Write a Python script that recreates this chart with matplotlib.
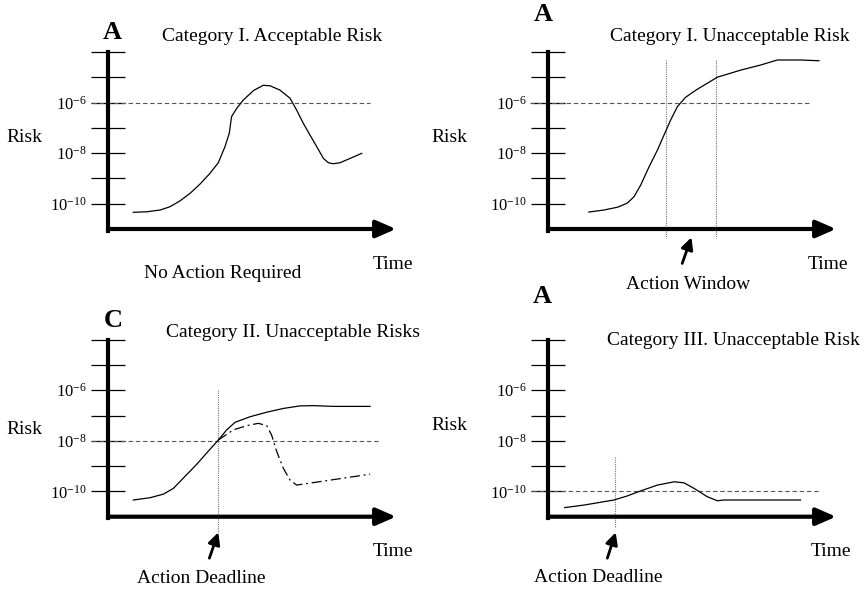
import matplotlib.pyplot as plt

plt.rcParams['font.family'] = 'Liberation Serif'
plt.rcParams['mathtext.default'] = 'regular'

# risk axis, in log10(risk)
risk_ticks = [-10, -9, -8, -7, -6, -5, -4]
risk_labels = ['$10^{-10}$', '', '$10^{-8}$', '', '$10^{-6}$', '', '']

# Category I, acceptable risk
acc_time = [0.88, 1.34, 1.81, 2.15, 2.50, 2.85, 3.19, 3.54, 3.83, 4.06, 4.21, 4.29, 4.47,
            4.70, 5.05, 5.39, 5.63, 5.97, 6.32, 6.55, 6.78, 7.01, 7.25, 7.48, 7.65, 7.82,
            8.06, 8.81]
acc_risk = [-10.34, -10.32, -10.25, -10.12, -9.89, -9.59, -9.23, -8.80, -8.38, -7.75, -7.22,
            -6.56, -6.23, -5.90, -5.53, -5.32, -5.34, -5.51, -5.83, -6.30, -6.82, -7.28,
            -7.75, -8.21, -8.38, -8.42, -8.38, -8.01]

# Category I, unacceptable risk
unacc_time = [1.42, 1.94, 2.41, 2.75, 2.99, 3.22, 3.51, 3.80, 4.03, 4.26, 4.49, 4.78, 5.18,
              5.88, 6.69, 7.38, 7.96, 8.77, 9.41]
unacc_risk = [-10.33, -10.25, -10.14, -9.98, -9.72, -9.26, -8.54, -7.88, -7.28, -6.69, -6.17,
              -5.79, -5.48, -5.00, -4.72, -4.52, -4.32, -4.32, -4.35]
window = [4.08, 5.85]

# Category II
cat2_time = [0.88, 1.46, 1.92, 2.27, 2.61, 3.08, 3.42, 3.83, 4.12, 4.41, 4.93, 5.51, 6.09,
             6.67, 7.13, 7.82, 9.10]
cat2_risk = [-10.34, -10.25, -10.11, -9.88, -9.48, -8.93, -8.49, -7.97, -7.57, -7.27, -7.05,
             -6.87, -6.72, -6.62, -6.61, -6.64, -6.64]
cat2_act_time = [3.83, 4.35, 4.82, 5.22, 5.51, 5.68, 5.86, 6.09, 6.32, 6.55, 9.10]
cat2_act_risk = [-7.97, -7.57, -7.40, -7.31, -7.40, -7.77, -8.43, -9.09, -9.55, -9.75, -9.32]
cat2_deadline = 3.83

# Category III
cat3_time = [0.58, 1.25, 2.29, 2.75, 3.22, 3.80, 4.38, 4.72, 5.07, 5.53, 5.88, 6.11, 8.77]
cat3_risk = [-10.64, -10.54, -10.34, -10.18, -9.98, -9.75, -9.62, -9.66, -9.88, -10.21,
             -10.37, -10.34, -10.34]
cat3_deadline = 2.31

# pointer arrows: (tail, head)
window_arrow = [(4.66, -12.36), (4.98, -11.33)]
cat2_arrow = [(3.52, -12.64), (3.83, -11.62)]
cat3_arrow = [(2.06, -12.64), (2.35, -11.62)]

W, H = 868, 590
PW, PH = 434, 295
XS, YS = 28.8, 25.3  # px per time unit, px per decade

fig = plt.figure(figsize=(W / 100, H / 100), dpi=100)


def make_panel(left, top, x0, y0):
    ax = fig.add_axes([left / W, 1 - (top + PH) / H, PW / W, PH / H])
    ax.set_xlim((left - x0) / XS, (left + PW - x0) / XS)
    ax.set_ylim(-11 - (top + PH - y0) / YS, -11 + (y0 - top) / YS)
    ax.patch.set_visible(False)
    for s in ['top', 'right', 'bottom']:
        ax.spines[s].set_visible(False)
    ax.spines['left'].set_position(('data', 0))
    ax.spines['left'].set_bounds(-11.06, -4)
    ax.spines['left'].set_linewidth(3)
    ax.set_xticks([])
    ax.set_yticks(risk_ticks, risk_labels)
    ax.tick_params(axis='y', direction='inout', length=24.5, width=0.9, pad=3, labelsize=12)
    ax.annotate('', xy=(10, -11), xytext=(0, -11),
                arrowprops=dict(arrowstyle='-|>,head_length=0.8,head_width=0.35', lw=3,
                                color='black', mutation_scale=15, shrinkA=0, shrinkB=0))
    return ax


def threshold(ax, level, x1, x2):
    ax.plot([x1, x2], [level, level], color='#555555', lw=0.8, ls=(0, (4, 2.5)))


def pointer(ax, arrow):
    ax.annotate('', xy=arrow[1], xytext=arrow[0],
                arrowprops=dict(arrowstyle='-|>,head_length=0.6,head_width=0.3', lw=2,
                                color='black', mutation_scale=12, shrinkA=0, shrinkB=0))


def dotted(ax, x, y1, y2):
    ax.plot([x, x], [y1, y2], color='#777777', lw=0.8, ls=(0, (1, 1)))


txt = dict(fontsize=14, ha='center', va='center')

# top left
ax = make_panel(0, 0, 108, 229)
threshold(ax, -6, -0.56, 9.1)
ax.plot(acc_time, acc_risk, color='black', lw=0.9)
ax.text(0.14, -3.25, 'A', fontsize=19, fontweight='bold', ha='center', va='center')
ax.text(5.69, -3.41, 'Category I. Acceptable Risk', **txt)
ax.text(-2.92, -7.40, 'Risk', **txt)
ax.text(9.9, -12.42, 'Time', **txt)
ax.text(3.99, -12.74, 'No Action Required', **txt)

# top right
ax = make_panel(434, 0, 548, 229)
threshold(ax, -6, -0.63, 9.12)
for t in window:
    dotted(ax, t, -4.32, -11.36)
ax.plot(unacc_time, unacc_risk, color='black', lw=0.9)
pointer(ax, window_arrow)
ax.text(-0.17, -2.54, 'A', fontsize=19, fontweight='bold', ha='center', va='center')
ax.text(6.32, -3.41, 'Category I. Unacceptable Risk', **txt)
ax.text(-3.44, -7.40, 'Risk', **txt)
ax.text(9.72, -12.42, 'Time', **txt)
ax.text(4.86, -13.21, 'Action Window', **txt)

# bottom left
ax = make_panel(0, 295, 108, 516.7)
threshold(ax, -8, -0.56, 9.44)
dotted(ax, cat2_deadline, -6.0, -11.66)
ax.plot(cat2_time, cat2_risk, color='black', lw=0.9)
ax.plot(cat2_act_time, cat2_act_risk, color='black', lw=0.9, ls=(0, (8, 3, 1.5, 3)))
pointer(ax, cat2_arrow)
ax.text(0.17, -3.23, 'C', fontsize=19, fontweight='bold', ha='center', va='center')
ax.text(6.42, -3.70, 'Category II. Unacceptable Risks', **txt)
ax.text(-2.92, -7.54, 'Risk', **txt)
ax.text(9.9, -12.38, 'Time', **txt)
ax.text(3.25, -13.43, 'Action Deadline', **txt)

# bottom right
ax = make_panel(434, 295, 548, 516.7)
threshold(ax, -10, -0.54, 9.41)
dotted(ax, cat3_deadline, -8.63, -11.4)
ax.plot(cat3_time, cat3_risk, color='black', lw=0.9)
pointer(ax, cat3_arrow)
ax.text(-0.21, -2.28, 'A', fontsize=19, fontweight='bold', ha='center', va='center')
ax.text(6.43, -4.04, 'Category III. Unacceptable Risk', **txt)
ax.text(-3.44, -7.38, 'Risk', **txt)
ax.text(9.84, -12.38, 'Time', **txt)
ax.text(1.74, -13.41, 'Action Deadline', **txt)

fig.savefig('out.png', dpi=100)
